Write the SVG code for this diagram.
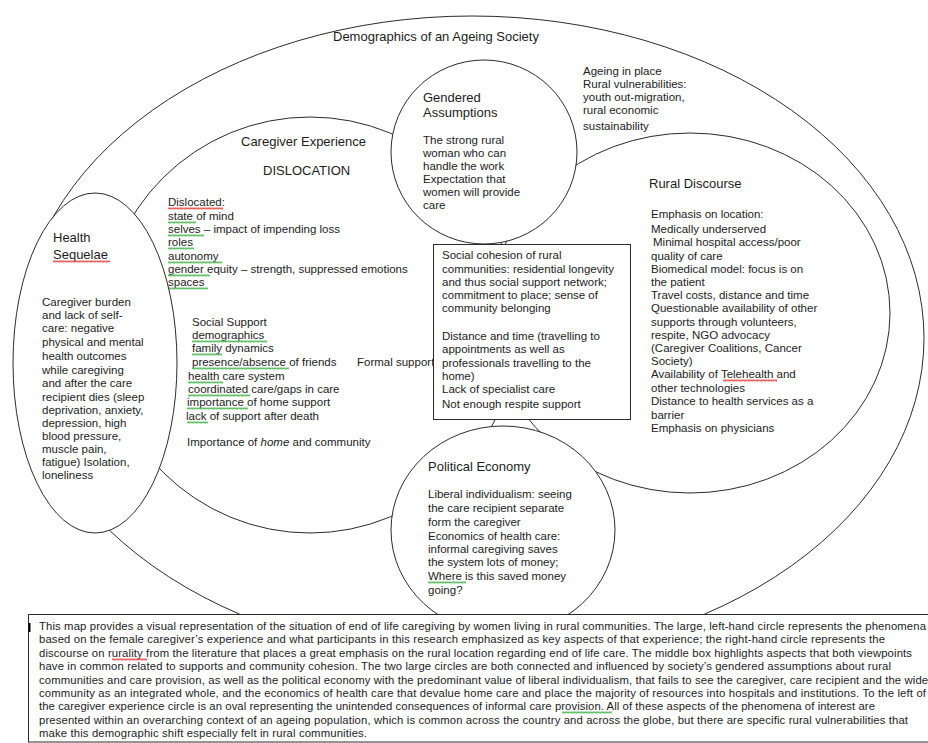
<svg xmlns="http://www.w3.org/2000/svg" width="928" height="743" viewBox="0 0 928 743">
<style>
.ln{fill:#fff;stroke:#2b2b2b;stroke-width:1}
.t{font-family:"Liberation Sans",Arial,sans-serif;font-size:11.5px;fill:#1c1c1c}
.h{font-size:13px}
.b{font-size:11.3px}
</style>
<defs>
<pattern id="sqG" width="4" height="3" patternUnits="userSpaceOnUse"><path d="M0 2.5L1 0.5L2 2.5L3 0.5L4 2.5" stroke="#3cb043" stroke-width="0.8" fill="none"/></pattern>
<pattern id="sqR" width="4" height="3" patternUnits="userSpaceOnUse"><path d="M0 2.5L1 0.5L2 2.5L3 0.5L4 2.5" stroke="#e53935" stroke-width="0.8" fill="none"/></pattern>
</defs>
<rect width="928" height="743" fill="#fff"/>

<g id="demographics">
<ellipse class="ln" cx="472" cy="338" rx="452" ry="322"/>
<text class="t h" x="333" y="41">Demographics of an Ageing Society</text>
<text class="t"><tspan x="583" y="75">Ageing in place</tspan><tspan x="583" y="88">Rural vulnerabilities:</tspan><tspan x="583" y="101">youth out-migration,</tspan><tspan x="583" y="114">rural economic</tspan><tspan x="583" y="130">sustainability</tspan></text>
</g>

<g id="caregiver-experience">
<circle class="ln" cx="310" cy="325" r="208"/>
<text class="t h" x="241" y="146">Caregiver Experience</text>
<text class="t h" x="263" y="175">DISLOCATION</text>
<text class="t"><tspan x="168" y="206">Dislocated:</tspan><tspan x="168" y="220">state of mind</tspan><tspan x="168" y="233">selves – impact of impending loss</tspan><tspan x="168" y="246">roles</tspan><tspan x="168" y="260">autonomy</tspan><tspan x="168" y="273">gender equity – strength, suppressed emotions</tspan><tspan x="168" y="286">spaces</tspan></text>
<text class="t"><tspan x="192" y="326">Social Support</tspan><tspan x="192" y="339">demographics</tspan><tspan x="192" y="352">family dynamics</tspan><tspan x="192" y="366">presence/absence of friends</tspan><tspan x="188" y="380">health care system</tspan><tspan x="188" y="393">coordinated care/gaps in care</tspan><tspan x="187" y="406">importance of home support</tspan><tspan x="186" y="420">lack of support after death</tspan></text>
<text class="t" x="357" y="366">Formal support</text>
<text class="t" x="187" y="446">Importance of <tspan font-style="italic">home</tspan> and community</text>
<rect transform="translate(168,207)" width="55" height="3" fill="url(#sqR)"/>
<rect transform="translate(168,221)" width="28" height="3" fill="url(#sqG)"/>
<rect transform="translate(168,234)" width="36" height="3" fill="url(#sqG)"/>
<rect transform="translate(168,247)" width="26" height="3" fill="url(#sqG)"/>
<rect transform="translate(168,261)" width="54" height="3" fill="url(#sqG)"/>
<rect transform="translate(168,274)" width="42" height="3" fill="url(#sqG)"/>
<rect transform="translate(168,287)" width="40" height="3" fill="url(#sqG)"/>
<rect transform="translate(192,340)" width="75" height="3" fill="url(#sqG)"/>
<rect transform="translate(192,353)" width="30" height="3" fill="url(#sqG)"/>
<rect transform="translate(192,367)" width="97" height="3" fill="url(#sqG)"/>
<rect transform="translate(188,381)" width="35" height="3" fill="url(#sqG)"/>
<rect transform="translate(188,394)" width="62" height="3" fill="url(#sqG)"/>
<rect transform="translate(187,407)" width="61" height="3" fill="url(#sqG)"/>
<rect transform="translate(187,421)" width="21" height="3" fill="url(#sqG)"/>
</g>

<g id="rural-discourse">
<ellipse class="ln" cx="690" cy="313" rx="200" ry="180"/>
<text class="t h" x="649" y="188">Rural Discourse</text>
<text class="t"><tspan x="651" y="218">Emphasis on location:</tspan><tspan x="651" y="233">Medically underserved</tspan><tspan x="653" y="246">Minimal hospital access/poor</tspan><tspan x="651" y="260">quality of care</tspan><tspan x="651" y="273">Biomedical model: focus is on</tspan><tspan x="651" y="286">the patient</tspan><tspan x="651" y="299">Travel costs, distance and time</tspan><tspan x="651" y="312">Questionable availability of other</tspan><tspan x="651" y="326">supports through volunteers,</tspan><tspan x="651" y="339">respite, NGO advocacy</tspan><tspan x="651" y="352">(Caregiver Coalitions, Cancer</tspan><tspan x="651" y="365">Society)</tspan><tspan x="651" y="378">Availability of Telehealth and</tspan><tspan x="651" y="392">other technologies</tspan><tspan x="651" y="405">Distance to health services as a</tspan><tspan x="651" y="419">barrier</tspan><tspan x="651" y="432">Emphasis on physicians</tspan></text>
<rect transform="translate(723,379)" width="54" height="3" fill="url(#sqR)"/>
</g>

<g id="health-sequelae">
<ellipse class="ln" cx="95" cy="363" rx="82" ry="170"/>
<text class="t h"><tspan x="53" y="242">Health</tspan><tspan x="53" y="259">Sequelae</tspan></text>
<rect transform="translate(53,260)" width="57" height="3" fill="url(#sqR)"/>
<text class="t"><tspan x="42" y="306">Caregiver burden</tspan><tspan x="42" y="319">and lack of self-</tspan><tspan x="42" y="332">care: negative</tspan><tspan x="42" y="346">physical and mental</tspan><tspan x="42" y="360">health outcomes</tspan><tspan x="42" y="374">while caregiving</tspan><tspan x="42" y="387">and after the care</tspan><tspan x="42" y="401">recipient dies (sleep</tspan><tspan x="42" y="414">deprivation, anxiety,</tspan><tspan x="42" y="427">depression, high</tspan><tspan x="42" y="440">blood pressure,</tspan><tspan x="42" y="453">muscle pain,</tspan><tspan x="42" y="466">fatigue) Isolation,</tspan><tspan x="42" y="479">loneliness</tspan></text>
</g>

<g id="gendered-assumptions">
<ellipse class="ln" cx="484" cy="152" rx="93" ry="92"/>
<text class="t h"><tspan x="423" y="102">Gendered</tspan><tspan x="423" y="117">Assumptions</tspan></text>
<text class="t"><tspan x="423" y="144">The strong rural</tspan><tspan x="423" y="157">woman who can</tspan><tspan x="423" y="170">handle the work</tspan><tspan x="423" y="183">Expectation that</tspan><tspan x="423" y="196">women will provide</tspan><tspan x="423" y="209">care</tspan></text>
</g>

<g id="political-economy">
<ellipse class="ln" cx="503" cy="530" rx="112" ry="104"/>
<text class="t h" x="428" y="471">Political Economy</text>
<text class="t"><tspan x="428" y="498">Liberal individualism: seeing</tspan><tspan x="428" y="512">the care recipient separate</tspan><tspan x="428" y="526">form the caregiver</tspan><tspan x="428" y="540">Economics of health care:</tspan><tspan x="428" y="553">informal caregiving saves</tspan><tspan x="428" y="566">the system lots of money;</tspan><tspan x="428" y="580">Where is this saved money</tspan><tspan x="428" y="594">going?</tspan></text>
<rect transform="translate(428,581)" width="38" height="3" fill="url(#sqG)"/>
</g>

<g id="common-box">
<rect class="ln" x="433.5" y="244.5" width="197" height="175"/>
<text class="t"><tspan x="442" y="259">Social cohesion of rural</tspan><tspan x="442" y="273">communities: residential longevity</tspan><tspan x="442" y="286">and thus social support network;</tspan><tspan x="442" y="299">commitment to place; sense of</tspan><tspan x="442" y="312">community belonging</tspan><tspan x="442" y="340">Distance and time (travelling to</tspan><tspan x="442" y="353">appointments as well as</tspan><tspan x="442" y="367">professionals travelling to the</tspan><tspan x="442" y="380">home)</tspan><tspan x="442" y="393">Lack of specialist care</tspan><tspan x="442" y="408">Not enough respite support</tspan></text>
</g>

<g id="connectors"></g>

<g id="caption">
<rect class="ln" x="28.5" y="614.5" width="920" height="127.5"/>
<line x1="29.5" y1="623" x2="29.5" y2="632" stroke="#000" stroke-width="2"/>
<text class="t b" x="39" y="630" textLength="887" lengthAdjust="spacing">This map provides a visual representation of the situation of end of life caregiving by women living in rural communities. The large, left-hand circle represents the phenomena</text>
<text class="t b" x="39" y="643.4" textLength="846" lengthAdjust="spacing">based on the female caregiver’s experience and what participants in this research emphasized as key aspects of that experience; the right-hand circle represents the</text>
<text class="t b" x="39" y="656.8" textLength="873" lengthAdjust="spacing">discourse on rurality from the literature that places a great emphasis on the rural location regarding end of life care. The middle box highlights aspects that both viewpoints</text>
<text class="t b" x="39" y="670.2" textLength="852" lengthAdjust="spacing">have in common related to supports and community cohesion. The two large circles are both connected and influenced by society’s gendered assumptions about rural</text>
<text class="t b" x="39" y="683.6" textLength="893" lengthAdjust="spacing">communities and care provision, as well as the political economy with the predominant value of liberal individualism, that fails to see the caregiver, care recipient and the wider</text>
<text class="t b" x="39" y="697" textLength="887" lengthAdjust="spacing">community as an integrated whole, and the economics of health care that devalue home care and place the majority of resources into hospitals and institutions.  To the left of</text>
<text class="t b" x="39" y="710.4" textLength="836" lengthAdjust="spacing">the caregiver experience circle is an oval representing the unintended consequences of informal care provision. All of these aspects of the phenomena of interest are</text>
<text class="t b" x="39" y="723.8" textLength="869" lengthAdjust="spacing">presented within an overarching context of an ageing population, which is common across the country and across the globe, but there are specific rural vulnerabilities that</text>
<text class="t b" x="39" y="737.2" textLength="328" lengthAdjust="spacing">make this demographic shift especially felt in rural communities.</text>
<rect transform="translate(112,658)" width="35" height="3" fill="url(#sqR)"/>
<rect transform="translate(562,711)" width="50" height="3" fill="url(#sqG)"/>
</g>
</svg>
